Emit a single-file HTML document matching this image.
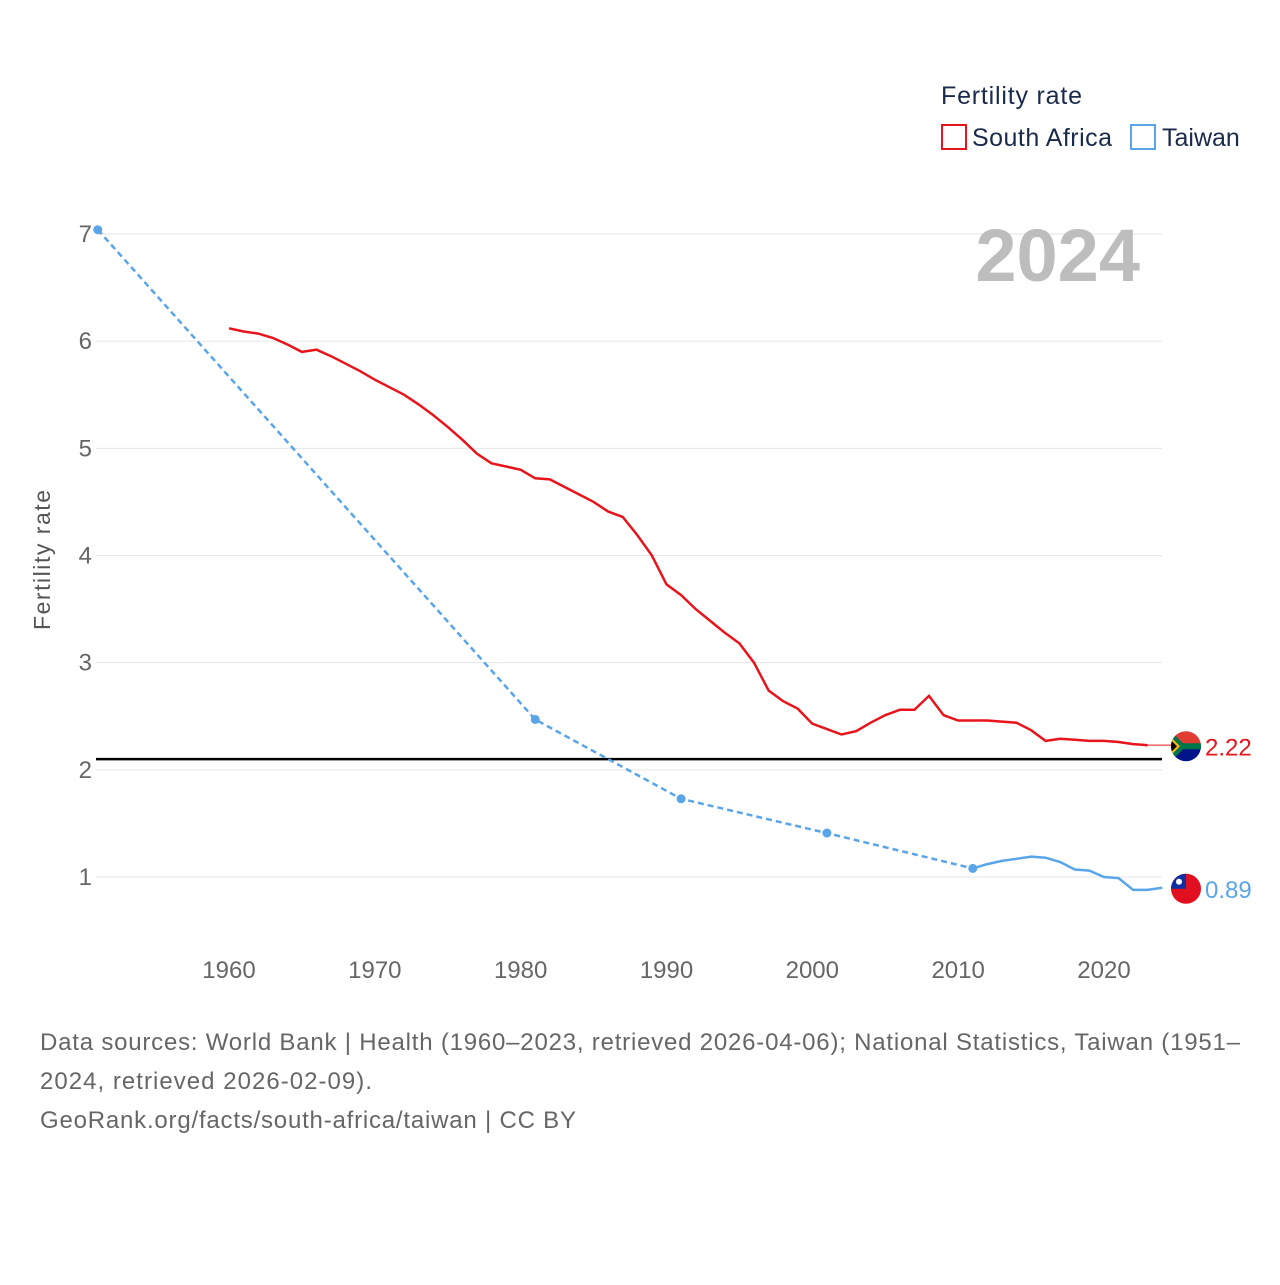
<!DOCTYPE html>
<html><head><meta charset="utf-8"><style>
body{margin:0;background:#fff;font-family:"Liberation Sans",sans-serif}
</style></head><body>
<svg width="1280" height="1280" viewBox="0 0 1280 1280">
<rect width="1280" height="1280" fill="#fff"/>
<g id="grid"></g>
<g id="axes"></g>
<g id="series"></g>
<text x="1140" y="281" text-anchor="end" font-size="74" font-weight="bold" fill="#bdbdbd">2024</text>
<text x="941" y="104" font-size="25" fill="#1a2a4a" textLength="141">Fertility rate</text>
<g><rect x="942" y="125" width="24" height="24" fill="none" stroke="#e8141c" stroke-width="2"/><text x="972" y="146" font-size="25" fill="#1a2a4a" textLength="140">South Africa</text></g>
<g><rect x="1131" y="125" width="24" height="24" fill="none" stroke="#5aa5ea" stroke-width="2"/><text x="1162" y="146" font-size="25" fill="#1a2a4a">Taiwan</text></g>
<text transform="translate(50,560) rotate(-90)" text-anchor="middle" font-size="23" fill="#555" textLength="140">Fertility rate</text>
<g font-size="24" fill="#666">
<text x="40" y="1050" textLength="1200">Data sources: World Bank | Health (1960–2023, retrieved 2026-04-06); National Statistics, Taiwan (1951–</text>
<text x="40" y="1089" textLength="332">2024, retrieved 2026-02-09).</text>
<text x="40" y="1128" textLength="536">GeoRank.org/facts/south-africa/taiwan | CC BY</text>
</g>
</svg>
<script>
const yTicks=[1,2,3,4,5,6,7];
const xTicks=[1960,1970,1980,1990,2000,2010,2020];
const zaYears=[1960,1961,1962,1963,1964,1965,1966,1967,1968,1969,1970,1971,1972,1973,1974,1975,1976,1977,1978,1979,1980,1981,1982,1983,1984,1985,1986,1987,1988,1989,1990,1991,1992,1993,1994,1995,1996,1997,1998,1999,2000,2001,2002,2003,2004,2005,2006,2007,2008,2009,2010,2011,2012,2013,2014,2015,2016,2017,2018,2019,2020,2021,2022,2023];
const zaValues=[6.12,6.09,6.07,6.03,5.97,5.90,5.92,5.86,5.79,5.72,5.64,5.57,5.50,5.41,5.31,5.20,5.08,4.95,4.86,4.83,4.80,4.72,4.71,4.64,4.57,4.50,4.41,4.36,4.19,4.00,3.73,3.63,3.50,3.39,3.28,3.18,3.00,2.74,2.64,2.57,2.43,2.38,2.33,2.36,2.44,2.51,2.56,2.56,2.69,2.51,2.46,2.46,2.46,2.45,2.44,2.37,2.27,2.29,2.28,2.27,2.27,2.26,2.24,2.23];
const twDashYears=[1951,1981,1991,2001,2011];
const twDashValues=[7.04,2.47,1.73,1.41,1.08];
const twYears=[2011,2012,2013,2014,2015,2016,2017,2018,2019,2020,2021,2022,2023,2024];
const twValues=[1.08,1.12,1.15,1.17,1.19,1.18,1.14,1.07,1.06,1.00,0.99,0.88,0.88,0.90];
const refLine=2.1;
const NS='http://www.w3.org/2000/svg';
const X=y=>229+(y-1960)*14.583;
const Y=v=>877-(v-1)*107.17;
function mk(t,a,p){const e=document.createElementNS(NS,t);for(const k in a)e.setAttribute(k,a[k]);p.appendChild(e);return e;}
const grid=document.getElementById('grid'),axes=document.getElementById('axes'),ser=document.getElementById('series');
yTicks.forEach(v=>{
 const l=mk('line',{x1:96,x2:1162,y1:Y(v),y2:Y(v),stroke:'#e6e6e6','stroke-width':1},grid);
 
 
 const t=mk('text',{x:92,y:Y(v)+8,'text-anchor':'end','font-size':24,fill:'#666'},axes);t.textContent=v;
 
 
});
xTicks.forEach(y=>{
 const t=mk('text',{x:X(y),y:978,'text-anchor':'middle','font-size':24,fill:'#666'},axes);t.textContent=y;
 
 
});
const rl=mk('line',{x1:96,x2:1162,y1:Y(refLine),y2:Y(refLine),stroke:'#000','stroke-width':2.5},ser);


const pts=(ys,vs)=>ys.map((y,i)=>X(y).toFixed(1)+','+Y(vs[i]).toFixed(1)).join(' ');
const za=mk('polyline',{points:pts(zaYears,zaValues),fill:'none',stroke:'#e8141c','stroke-width':2.5},ser);


const zl=zaValues[zaValues.length-1];
const zc=mk('line',{x1:X(2023),y1:Y(zl),x2:1186,y2:Y(zl),stroke:'#e8141c','stroke-width':1},ser);


const td=mk('polyline',{points:pts(twDashYears,twDashValues),fill:'none',stroke:'#5aa5ea','stroke-width':2.5,'stroke-dasharray':'6,4'},ser);


twDashYears.forEach((y,i)=>{const c=mk('circle',{cx:X(y),cy:Y(twDashValues[i]),r:4.5,fill:'#5aa5ea'},ser);
 
 });
const ts=mk('polyline',{points:pts(twYears,twValues),fill:'none',stroke:'#5aa5ea','stroke-width':2.5},ser);


const fz=mk('g',{},ser);


const cyz=Y(2.22);
const cp=mk('clipPath',{id:'cz'},fz);
mk('circle',{cx:1186,cy:cyz,r:15},cp);
const gz=mk('g',{'clip-path':'url(#cz)'},fz);
mk('rect',{x:1170,y:cyz-16,width:32,height:16,fill:'#e03c31'},gz);
mk('rect',{x:1170,y:cyz,width:32,height:16,fill:'#001489'},gz);
mk('path',{d:`M1170 ${cyz-16} L1186 ${cyz} L1170 ${cyz+16} Z`,fill:'#007749'},gz);
mk('rect',{x:1180,y:cyz-3,width:22,height:6,fill:'#007749'},gz);
mk('path',{d:`M1170 ${cyz-10} L1180 ${cyz} L1170 ${cyz+10} Z`,fill:'#ffb81c'},gz);
mk('path',{d:`M1170 ${cyz-7} L1177 ${cyz} L1170 ${cyz+7} Z`,fill:'#000'},gz);
const ft=mk('g',{},ser);


const cyt=Y(0.89);
mk('circle',{cx:1186,cy:cyt,r:15,fill:'#e01020'},ft);
mk('path',{d:`M1186 ${cyt} L1171 ${cyt} A15 15 0 0 1 1186 ${cyt-15} Z`,fill:'#1030a0'},ft);
mk('circle',{cx:1179,cy:cyt-7,r:3,fill:'#fff'},ft);
const lz=mk('text',{x:1205,y:cyz+9,'font-size':24,fill:'#e8141c'},ser);lz.textContent='2.22';


const lt=mk('text',{x:1205,y:cyt+9,'font-size':24,fill:'#5aa5ea'},ser);lt.textContent='0.89';


</script>
</body></html>
